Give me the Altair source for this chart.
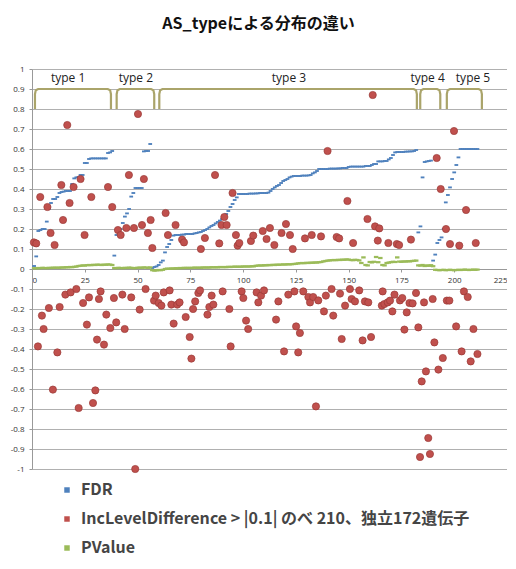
import altair as alt
import pandas as pd

# ---------------- data ----------------
title_text = "AS_typeによる分布の違い"
series_names = ["FDR", "IncLevelDifference > |0.1| のべ 210、独立172遺伝子", "PValue"]
series_colors = ["#4F81BD", "#C0504D", "#9BBB59"]

x_ticks = [0, 25, 50, 75, 100, 125, 150, 175, 200, 225]
y_ticks = [1, 0.9, 0.8, 0.7, 0.6, 0.5, 0.4, 0.3, 0.2, 0.1, 0,
           -0.1, -0.2, -0.3, -0.4, -0.5, -0.6, -0.7, -0.8, -0.9, -1]

type_labels = ["type 1", "type 2", "type 3", "type 4", "type 5"]
type_start = [1.4, 40.1, 60.3, 183.9, 196.5]
type_end = [37.4, 57.9, 182.3, 193.4, 213.1]
type_label_x = [17.1, 49.2, 121.7, 187.4, 208.9]

# FDR, one value per index 1..211
fdr_values = [
    0.015, 0.063, 0.19, 0.195, 0.2, 0.2, 0.237, 0.30, 0.33, 0.35,
    0.35, 0.36, 0.38, 0.385, 0.387, 0.39, 0.39, 0.39, 0.425, 0.453,
    0.458, 0.46, 0.47, 0.47, 0.53, 0.53, 0.55, 0.553, 0.553, 0.553,
    0.553, 0.553, 0.553, 0.553, 0.553, 0.58, 0.583, 0.59, 0.067, 0.17,
    0.19, 0.2, 0.23, 0.262, 0.278, 0.3, 0.362, 0.38, 0.405, 0.405,
    0.405, 0.405, 0.588, 0.59, 0.59, 0.625, 0.005, 0.01, 0.013, 0.02,
    0.033, 0.042, 0.083, 0.11, 0.125, 0.145, 0.167, 0.17, 0.17, 0.17,
    0.172, 0.172, 0.175, 0.175, 0.175, 0.175, 0.178, 0.18, 0.183, 0.185,
    0.19, 0.195, 0.2, 0.208, 0.215, 0.22, 0.228, 0.235, 0.242, 0.25,
    0.26, 0.275, 0.29, 0.31, 0.325, 0.345, 0.358, 0.375, 0.375, 0.375,
    0.375, 0.375, 0.377, 0.377, 0.377, 0.378, 0.378, 0.38, 0.38, 0.38,
    0.38, 0.382, 0.39, 0.4, 0.408, 0.415, 0.42, 0.43, 0.44, 0.445,
    0.45, 0.458, 0.462, 0.465, 0.465, 0.465, 0.465, 0.467, 0.467, 0.467,
    0.468, 0.47, 0.478, 0.483, 0.49, 0.5, 0.5, 0.5, 0.5, 0.5,
    0.502, 0.502, 0.502, 0.502, 0.503, 0.503, 0.505, 0.505, 0.505, 0.51,
    0.512, 0.512, 0.512, 0.512, 0.512, 0.512, 0.512, 0.515, 0.515, 0.515,
    0.52, 0.525, 0.525, 0.538, 0.538, 0.538, 0.54, 0.54, 0.548, 0.555,
    0.57, 0.583, 0.585, 0.585, 0.585, 0.585, 0.587, 0.587, 0.588, 0.588,
    0.59, 0.595, 0.183, 0.213, 0.458, 0.535, 0.538, 0.54, 0.542, 0.042,
    0.072, 0.13, 0.145, 0.158, 0.2, 0.333, 0.37, 0.408, 0.45, 0.483,
    0.52, 0.558, 0.6, 0.6, 0.6, 0.6, 0.6, 0.6, 0.6, 0.6, 0.6,
]

# PValue, one value per index 1..211
pvalue_values = [
    0.004, 0.003, 0.005, 0.004, 0.006, 0.005, 0.004, 0.006, 0.005, 0.007,
    0.006, 0.007, 0.006, 0.008, 0.007, 0.009, 0.008, 0.010, 0.009, 0.011,
    0.012, 0.015, 0.016, 0.018, 0.017, 0.019, 0.020, 0.019, 0.021, 0.020,
    0.022, 0.021, 0.020, 0.022, 0.021, 0.023, 0.022, 0.020,
    0.005, 0.004, 0.006, 0.005, 0.004, 0.006, 0.005, 0.007, 0.006, 0.004, 0.005, 0.006,
    0.007, 0.006, 0.008, 0.007, 0.006, 0.008,
    -0.006, -0.008, -0.007, -0.005, -0.006, -0.004,
    0.000, 0.002, 0.001, 0.003, 0.002, 0.004, 0.003, 0.005, 0.004, 0.006, 0.005, 0.006, 0.005,
    0.006, 0.007, 0.006, 0.007, 0.006, 0.008, 0.007, 0.008, 0.007, 0.009, 0.008, 0.009, 0.008, 0.010, 0.009,
    0.010, 0.009, 0.011, 0.010, 0.011, 0.012, 0.011, 0.012, 0.011, 0.013, 0.012, 0.013, 0.012, 0.014, 0.013,
    0.016, 0.017, 0.018, 0.017, 0.019, 0.018, 0.020, 0.019, 0.021, 0.020,
    0.022, 0.021, 0.022, 0.023, 0.022, 0.024, 0.023, 0.024, 0.025, 0.026,
    0.028, 0.029, 0.030, 0.029, 0.031, 0.030, 0.032, 0.031, 0.033, 0.032, 0.034, 0.035, 0.038, 0.040, 0.042,
    0.043, 0.044, 0.045, 0.044, 0.046, 0.045, 0.047, 0.046, 0.048, 0.047, 0.045, 0.044, 0.046, 0.045, 0.043,
    0.030, 0.058, 0.020, 0.018, 0.035, 0.033, 0.036, 0.060, 0.034, 0.055, 0.020, 0.018, 0.030, 0.032, 0.034,
    0.036, 0.035, 0.058, 0.037, 0.036, 0.038, 0.037, 0.039, 0.038, 0.040, 0.041, 0.042,
    0.018, 0.017, 0.020, 0.015, 0.018, 0.016, 0.019, 0.014,
    -0.004, -0.005, -0.006, -0.005, -0.004, -0.006, -0.005, -0.004, -0.005, -0.006, -0.005,
    -0.004, -0.005, -0.004, -0.003, -0.004, -0.005, -0.004, -0.003, -0.004, -0.003,
]

# IncLevelDifference (x position, value)
inc_x = [
    0.9, 2.0, 3.9, 7.3, 8.8, 10.7, 13.9, 14.7, 16.7, 17.8, 19.7, 23.0, 24.9, 28.1, 36.0, 38.0,
    40.7, 42.0, 44.7, 45.9, 48.3, 50.2, 52.1, 53.0, 54.9, 56.2, 57.0, 63.3, 64.4, 68.0, 71.1, 72.0,
    80.0, 81.9, 86.7, 88.7, 89.8, 91.1, 92.2, 95.0, 96.6, 97.4, 98.2, 103.7, 104.8, 109.3, 111.1,
    112.7, 114.8, 118.2, 120.3, 122.2, 123.5, 129.3, 132.5, 136.9, 140.0, 144.3, 145.5, 149.4, 152.1,
    161.4, 158.9, 162.5, 164.5, 163.8, 168.8, 172.8, 173.9, 179.5, 191.7, 193.6, 196.1, 198.0, 199.9,
    202.4, 205.6, 210.2,
    2.8, 4.7, 5.5, 8.0, 9.9, 12.0, 13.1, 15.8, 18.3, 21.0, 22.1, 24.2, 26.0, 27.0, 28.9, 30.0, 30.8,
    31.7, 32.5, 34.1, 35.2, 37.1, 38.8, 39.9, 42.8, 43.9, 47.0, 48.9, 51.0, 53.8, 57.8, 58.6, 60.0,
    61.3, 62.4, 65.2, 66.0, 67.1, 68.8, 69.9, 72.8, 74.7, 75.5, 76.3, 77.3,
    78.8, 79.6, 83.1, 84.0, 85.1, 85.9, 90.3, 93.5, 94.1, 99.3, 100.1, 101.4, 102.4, 106.4, 107.2,
    108.5, 109.9, 115.6, 116.7, 119.4, 121.4, 124.3, 125.1, 126.1, 126.9, 128.5, 130.9, 131.7, 133.2,
    134.5, 135.6, 138.3, 139.2, 141.9, 142.7, 145.9, 146.7, 148.3, 150.6, 151.4, 153.0, 155.0,
    156.6, 157.7, 159.3, 160.6, 165.7, 166.1, 166.9, 168.5, 169.6, 170.7, 171.7, 174.3, 175.4, 176.4,
    177.5, 178.8, 180.3, 181.9, 183.0, 183.8, 184.6, 185.7, 186.6, 187.7, 188.5, 189.8, 190.6, 192.5,
    194.6, 196.5, 197.7, 200.9, 203.5, 204.6, 206.4, 207.8, 209.1, 211.0,
]
inc_y = [
    0.133, 0.128, 0.36, 0.31, 0.18, 0.12, 0.42, 0.245, 0.72, 0.33, 0.41, 0.45, 0.17, 0.36, 0.41, 0.31,
    0.195, 0.17, 0.205, 0.47, 0.205, 0.775, 0.22, 0.45, 0.18, 0.245, 0.105, 0.28, 0.17, 0.22, 0.147, 0.133,
    0.1, 0.155, 0.47, 0.128, 0.22, 0.26, 0.22, 0.38, 0.17, 0.117, 0.13, 0.14, 0.167, 0.19, 0.15,
    0.205, 0.12, 0.18, 0.225, 0.17, 0.1, 0.153, 0.17, 0.163, 0.59, 0.16, 0.153, 0.34, 0.13,
    0.87, 0.25, 0.213, 0.203, 0.142, 0.13, 0.125, 0.12, 0.147, 0.555, 0.40, 0.2, 0.125, 0.69,
    0.117, 0.295, 0.13,
    -0.387, -0.233, -0.3, -0.195, -0.603, -0.417, -0.19, -0.128, -0.117, -0.1, -0.695, -0.17, -0.278,
    -0.142, -0.67, -0.607, -0.353, -0.15, -0.112, -0.378, -0.228, -0.295, -0.145, -0.267, -0.128, -0.3,
    -0.142, -1.0, -0.203, -0.1, -0.158, -0.133, -0.17, -0.183, -0.117, -0.107, -0.178, -0.273, -0.178,
    -0.167, -0.24, -0.34, -0.448, -0.2, -0.162,
    -0.12, -0.107, -0.228, -0.19, -0.133, -0.178, -0.112, -0.2, -0.387, -0.112, -0.145, -0.258, -0.3,
    -0.117, -0.167, -0.133, -0.107, -0.253, -0.162, -0.412, -0.128, -0.112, -0.287, -0.417, -0.32,
    -0.112, -0.14, -0.167, -0.14, -0.687, -0.157, -0.212, -0.133, -0.1, -0.233, -0.123, -0.35, -0.183,
    -0.1, -0.15, -0.162, -0.107,
    -0.357, -0.162, -0.167, -0.34, -0.183, -0.112, -0.175, -0.167, -0.158, -0.212, -0.128, -0.157,
    -0.145, -0.303, -0.217, -0.17, -0.172, -0.12, -0.292, -0.94, -0.562, -0.167, -0.512, -0.845,
    -0.925, -0.15, -0.367, -0.503, -0.445, -0.158, -0.158, -0.287, -0.412, -0.112, -0.14, -0.462,
    -0.3, -0.425,
]

# ---------------- tables ----------------
fdr_df = pd.DataFrame({"x": list(range(1, len(fdr_values) + 1)), "y": fdr_values, "series": series_names[0]})
inc_df = pd.DataFrame({"x": inc_x, "y": inc_y, "series": series_names[1]})
pv_df = pd.DataFrame({"x": list(range(1, len(pvalue_values) + 1)), "y": pvalue_values, "series": series_names[2]})

bracket_rows = []
for i, (s, e) in enumerate(zip(type_start, type_end)):
    pts = [(s, 0.8), (s, 0.875), (s + 0.4, 0.894), (s + 1.5, 0.9),
           (e - 1.5, 0.9), (e - 0.4, 0.894), (e, 0.875), (e, 0.8)]
    for k, (px, py) in enumerate(pts):
        bracket_rows.append({"g": i, "k": k, "x": px, "y": py})
bracket_df = pd.DataFrame(bracket_rows)
label_df = pd.DataFrame({"x": type_label_x, "y": [0.955] * len(type_labels), "t": type_labels})

FONT_NUM = "Open Sans"
FONT_JP = "Noto Sans CJK JP"

xs = alt.Scale(domain=[0, 225], nice=False, zero=False)
ys = alt.Scale(domain=[-1, 1], nice=False)
cs = alt.Scale(domain=series_names, range=series_colors)

x_axis = alt.Axis(
    values=x_ticks, offset=-200, grid=False, title=None, labelOverlap=False,
    labelFont=FONT_NUM, labelFontSize=8, labelColor="#333333",
    domainColor="#999999", tickColor="#999999", tickSize=3, labelPadding=4,
)
y_axis = alt.Axis(
    values=y_ticks, title=None, labelExpr="datum.value + ''", labelOverlap=False,
    labelFont=FONT_NUM, labelFontSize=8, labelColor="#333333",
    grid=True, gridColor="#b0b0b0", gridWidth=1,
    domainColor="#999999", tickColor="#999999", tickSize=3, labelPadding=5,
)
legend = alt.Legend(
    title=None, orient="none", legendX=27, legendY=413, direction="vertical",
    symbolType="square", symbolSize=30, symbolStrokeWidth=0,
    labelFont=FONT_JP, labelFontSize=16, labelFontWeight="bold", labelColor="#454545",
    labelLimit=600, rowPadding=13, labelOffset=6,
)


def enc(chart):
    return chart.encode(
        x=alt.X("x:Q", scale=xs, axis=x_axis),
        y=alt.Y("y:Q", scale=ys, axis=y_axis),
    )


dash = "M-1,-0.5H1V0.5H-1Z"

fdr_layer = enc(alt.Chart(fdr_df).mark_point(shape=dash, filled=True, size=14, opacity=1)).encode(
    color=alt.Color("series:N", scale=cs, legend=legend)
)
inc_layer = enc(alt.Chart(inc_df).mark_point(shape="circle", filled=True, size=52, opacity=1,
                                             stroke="#9a3a37", strokeWidth=0.7)).encode(
    color=alt.Color("series:N", scale=cs, legend=legend)
)
pv_layer = enc(alt.Chart(pv_df).mark_point(shape=dash, filled=True, size=20, opacity=1)).encode(
    color=alt.Color("series:N", scale=cs, legend=legend)
)

brackets = enc(alt.Chart(bracket_df).mark_line(color="#aaa46a", strokeWidth=2.2)).encode(
    detail="g:N", order="k:Q"
)
labels = enc(alt.Chart(label_df).mark_text(font=FONT_NUM, fontSize=12, color="#222222")).encode(
    text="t:N"
)

chart = alt.layer(fdr_layer, inc_layer, pv_layer, brackets, labels).properties(
    width=475, height=400, autosize="none",
    padding={"left": 24, "top": 61, "right": 0, "bottom": 92},
    title=alt.TitleParams(title_text, font=FONT_JP, fontSize=16, fontWeight="bold",
                          color="#111111", anchor="middle", frame="group", offset=33, dx=-11),
).configure_view(stroke=None)

chart.save("out.html", embed_options={"renderer": "svg", "actions": False})
